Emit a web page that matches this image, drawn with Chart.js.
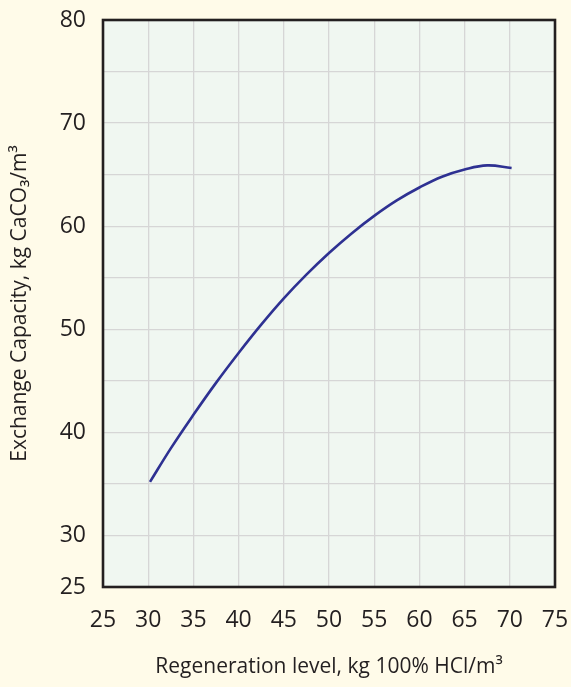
<!DOCTYPE html>
<html>
<head>
<meta charset="utf-8">
<script src="https://cdn.jsdelivr.net/npm/chart.js@4"></script>
<style>
  html, body { margin: 0; padding: 0; background: #fffbe9; }
  #wrap { width: 571px; height: 687px; }
</style>
</head>
<body>
<div id="wrap"><canvas id="capacity-chart" width="571" height="687"></canvas></div>
<script>
// Regeneration level (kg 100% HCl/m3) vs exchange capacity (kg CaCO3/m3)
const regenLevel = [30.2, 32.5, 35, 37.5, 40, 42.5, 45, 47.5, 50, 52.5, 55, 57.5, 60, 62.5, 65, 67.5, 70.2];
const capacity = [35.2, 38.45, 41.7, 44.8, 47.7, 50.45, 53.0, 55.3, 57.4, 59.3, 61.0, 62.5, 63.75, 64.8, 65.5, 65.9, 65.65];

const xTicks = [25, 30, 35, 40, 45, 50, 55, 60, 65, 70, 75];
const yLabelled = [25, 30, 40, 50, 60, 70, 80];

const FONT = "'Open Sans', Lato, sans-serif";
const INK = "#231f20";

// paints the plot background and the frame round it
const plotFrame = {
  id: "plotFrame",
  beforeDraw(chart) {
    const { ctx, chartArea: a } = chart;
    ctx.save();
    ctx.fillStyle = "#f0f7f1";
    ctx.fillRect(a.left, a.top, a.right - a.left, a.bottom - a.top);
    ctx.restore();
  },
  afterDraw(chart) {
    const { ctx, chartArea: a } = chart;
    ctx.save();
    ctx.strokeStyle = INK;
    ctx.lineWidth = 2.6;
    ctx.strokeRect(a.left, a.top, a.right - a.left, a.bottom - a.top);
    ctx.restore();
  }
};

new Chart(document.getElementById("capacity-chart"), {
  type: "line",
  data: {
    datasets: [{
      data: regenLevel.map((x, i) => ({ x, y: capacity[i] })),
      borderColor: "#2e3192",
      borderWidth: 2.6,
      pointRadius: 0,
      tension: 0.4,
      fill: false
    }]
  },
  options: {
    responsive: false,
    animation: false,
    layout: { padding: { top: 20, right: 16, left: 0, bottom: 0 } },
    plugins: { legend: { display: false }, tooltip: { enabled: false } },
    scales: {
      x: {
        type: "linear",
        min: 25,
        max: 75,
        // fixed height, and no extra room for the end labels
        afterFit: (s) => { s.height = 100; s.paddingLeft = 0; s.paddingRight = 0; },
        afterBuildTicks: (s) => { s.ticks = xTicks.map(v => ({ value: v })); },
        grid: { color: "#d6d6d6", lineWidth: 1.3, drawTicks: false },
        border: { display: false },
        ticks: {
          color: INK,
          padding: 20,
          maxRotation: 0,
          font: { family: FONT, size: 23 }
        },
        title: {
          display: true,
          text: "Regeneration level, kg 100% HCl/m³",
          color: INK,
          padding: { top: 0, bottom: 7 },
          font: { family: FONT, size: 21 }
        }
      },
      y: {
        type: "linear",
        min: 25,
        max: 80,
        afterFit: (s) => { s.width = 103; s.paddingTop = 0; s.paddingBottom = 0; },
        afterBuildTicks: (s) => {
          const t = [];
          for (let v = 25; v <= 80; v += 5) t.push({ value: v });
          s.ticks = t;
        },
        grid: { color: "#d6d6d6", lineWidth: 1.3, drawTicks: false },
        border: { display: false },
        ticks: {
          color: INK,
          padding: 17,
          font: { family: FONT, size: 23 },
          callback: (v) => yLabelled.includes(v) ? String(v) : ""
        },
        title: {
          display: true,
          text: "Exchange Capacity, kg CaCO₃/m³",
          color: INK,
          padding: { top: 7, bottom: 0 },
          font: { family: FONT, size: 21 }
        }
      }
    }
  },
  plugins: [plotFrame]
});
</script>
</body>
</html>
